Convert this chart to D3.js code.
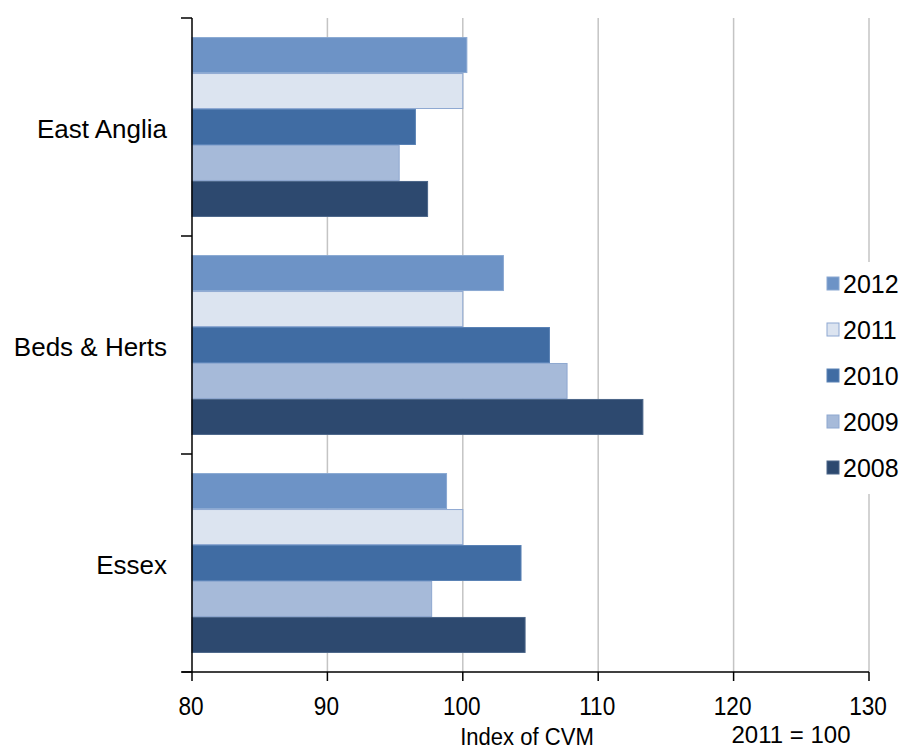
<!DOCTYPE html>
<html>
<head>
<meta charset="utf-8">
<script src="https://cdn.jsdelivr.net/npm/d3@7"></script>
<style>
  body { margin: 0; background: #fff; }
  #graf { width: 903px; height: 752px; }
  text { font-family: "Liberation Sans", Arial, sans-serif; fill: #000; }
</style>
</head>
<body>
<div id="graf"></div>
<script>
// Datos
regiones = ['East Anglia', 'Beds & Herts', 'Essex']
anios = ['2012', '2011', '2010', '2009', '2008']
v2012 = [100.3, 103.0, 98.8]
v2011 = [100.0, 100.0, 100.0]
v2010 = [96.5, 106.4, 104.3]
v2009 = [95.3, 107.7, 97.7]
v2008 = [97.4, 113.3, 104.6]
ticksX = [80, 90, 100, 110, 120, 130]
colores = ['#6d93c6', '#dce4f0', '#406ca3', '#a6bad9', '#2d496f']
bordes  = ['#8aa8d2', '#8ea8d2', '#5a82b5', '#8ea8d0', '#4a6588']

series = [v2012, v2011, v2010, v2009, v2008]

// Configuración del canvas
margins = {top: 18, left: 192, right: 34, bottom: 80}
ancho_total = 903
alto_total = 752
ancho = ancho_total - margins.left - margins.right
alto = alto_total - margins.top - margins.bottom

svg = d3.select('#graf').append('svg')
        .attr('width', ancho_total)
        .attr('height', alto_total)

g = svg.append('g')
       .attr('transform', `translate(${margins.left}, ${margins.top})`)

// -- Escaladores --
x = d3.scaleLinear().domain([80, 130]).range([0, ancho])
y0 = d3.scaleBand().domain(regiones).range([0, alto]).padding(0)
y1 = d3.scaleBand().domain(anios).range([0, y0.bandwidth()])
       .paddingInner(0).paddingOuter(0.53)

// Rejilla
g.append('g').selectAll('line')
 .data(ticksX.slice(1))
 .enter().append('line')
 .attr('x1', d => x(d)).attr('x2', d => x(d))
 .attr('y1', 0).attr('y2', alto)
 .attr('stroke', '#c4c4c4').attr('stroke-width', 1.5)

// Barras
grupos = g.selectAll('.grupo')
          .data(regiones)
          .enter().append('g')
          .attr('transform', d => `translate(0, ${y0(d)})`)

grupos.selectAll('rect')
      .data((d, i) => anios.map((a, j) => ({anio: a, j: j, valor: series[j][i]})))
      .enter().append('rect')
      .attr('x', x(80))
      .attr('y', d => y1(d.anio) + 0.5)
      .attr('width', d => x(d.valor) - x(80))
      .attr('height', y1.bandwidth() - 1)
      .attr('fill', d => colores[d.j])
      .attr('stroke', d => bordes[d.j])
      .attr('stroke-width', 1)

// Eje Y
ejeY = g.append('g')
ejeY.append('line')
    .attr('x1', 0).attr('x2', 0).attr('y1', 0).attr('y2', alto)
    .attr('stroke', '#000').attr('stroke-width', 1.5)
bordesY = regiones.map(r => y0(r)).concat([alto])
ejeY.selectAll('.tk')
    .data(bordesY)
    .enter().append('line')
    .attr('x1', -11).attr('x2', 0)
    .attr('y1', d => d).attr('y2', d => d)
    .attr('stroke', '#000').attr('stroke-width', 1.5)
ejeY.selectAll('text')
    .data(regiones)
    .enter().append('text')
    .attr('x', -25)
    .attr('y', d => y0(d) + y0.bandwidth() / 2 + 11)
    .attr('text-anchor', 'end')
    .style('font-size', '26px')
    .text(d => d)

// Eje X
ejeX = g.append('g').attr('transform', `translate(0, ${alto})`)
ejeX.append('line')
    .attr('x1', -10).attr('x2', ancho).attr('y1', 0).attr('y2', 0)
    .attr('stroke', '#000').attr('stroke-width', 1.5)
ejeX.selectAll('.tk')
    .data(ticksX)
    .enter().append('line')
    .attr('x1', d => x(d)).attr('x2', d => x(d))
    .attr('y1', 0).attr('y2', 9)
    .attr('stroke', '#000').attr('stroke-width', 1.5)
// etiquetas algo estrechas, como en el original
ejeX.selectAll('text')
    .data(ticksX)
    .enter().append('text')
    .attr('transform', d => `translate(${x(d) - 1}, 43) scale(0.87, 1)`)
    .attr('text-anchor', 'middle')
    .style('font-size', '26px')
    .text(d => d)

svg.append('text')
   .attr('transform', 'translate(527, 745) scale(0.92, 1)')
   .attr('text-anchor', 'middle')
   .style('font-size', '24px')
   .text('Index of CVM')

svg.append('text')
   .attr('x', 791).attr('y', 743)
   .attr('text-anchor', 'middle')
   .style('font-size', '24px')
   .text('2011 = 100')

// Leyenda
leyenda = svg.append('g').attr('transform', 'translate(815, 262)')
leyenda.append('rect')
       .attr('width', 88).attr('height', 232).attr('fill', '#fff')
items = leyenda.selectAll('.item')
               .data(anios)
               .enter().append('g')
               .attr('transform', (d, i) => `translate(0, ${22 + i * 46})`)
items.append('rect')
     .attr('x', 12).attr('y', -7).attr('width', 12).attr('height', 13)
     .attr('fill', (d, i) => colores[i])
     .attr('stroke', (d, i) => bordes[i])
items.append('text')
     .attr('x', 28).attr('y', 9)
     .style('font-size', '25px')
     .text(d => d)
</script>
</body>
</html>
